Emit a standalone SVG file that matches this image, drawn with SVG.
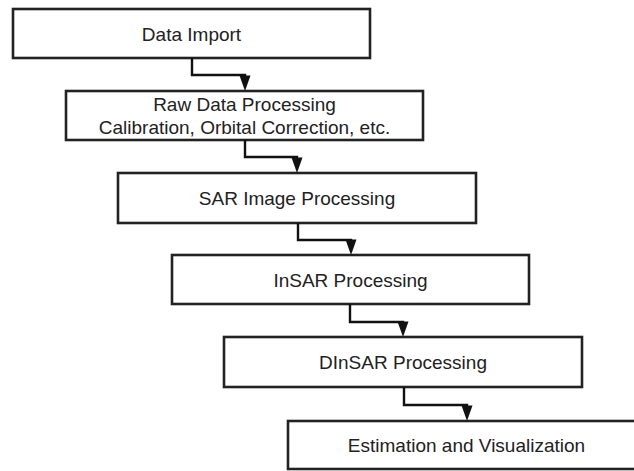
<svg xmlns="http://www.w3.org/2000/svg" xmlns:xlink="http://www.w3.org/1999/xlink" width="634" height="471" viewBox="0 0 634 471">
<style>
.box{fill:#fff;stroke:#222;stroke-width:2.6}
.lbl{font-family:"Liberation Sans",Arial,sans-serif;font-size:19px;fill:#222;text-anchor:middle}
.conn{fill:none;stroke:#111;stroke-width:2.4}
.ah{fill:#111}
</style>
<defs>
<path id="ah" class="ah" d="M-5.5,-15.5 L5.5,-15.5 L0,0 Z"/>
</defs>
<rect width="634" height="471" fill="#fff"/>
<g id="n1"><rect class="box" x="13" y="9" width="357" height="49"/><text class="lbl" x="191.5" y="41">Data Import</text></g>
<g id="n2"><rect class="box" x="66" y="91" width="357" height="49"/><text class="lbl" x="244.5" y="111">Raw Data Processing</text><text class="lbl" x="244.5" y="134">Calibration, Orbital Correction, etc.</text></g>
<g id="n3"><rect class="box" x="118" y="173" width="358" height="50"/><text class="lbl" x="297" y="205">SAR Image Processing</text></g>
<g id="n4"><rect class="box" x="172" y="255" width="357" height="49"/><text class="lbl" x="350.5" y="287">InSAR Processing</text></g>
<g id="n5"><rect class="box" x="224" y="337" width="358" height="50"/><text class="lbl" x="403" y="369">DInSAR Processing</text></g>
<g id="n6"><rect class="box" x="288" y="421" width="357" height="48"/><text class="lbl" x="466.5" y="452">Estimation and Visualization</text></g>
<g id="connectors">
<path class="conn" d="M192,58 V75 H245 V80"/><use xlink:href="#ah" href="#ah" x="245" y="91"/>
<path class="conn" d="M245,140 V157 H297 V162"/><use xlink:href="#ah" href="#ah" x="297" y="173"/>
<path class="conn" d="M298,223 V240 H351 V244"/><use xlink:href="#ah" href="#ah" x="351" y="255"/>
<path class="conn" d="M350,304 V322 H403 V326"/><use xlink:href="#ah" href="#ah" x="403" y="337"/>
<path class="conn" d="M404,387 V405 H467 V410"/><use xlink:href="#ah" href="#ah" x="467" y="421"/>
</g>
</svg>
